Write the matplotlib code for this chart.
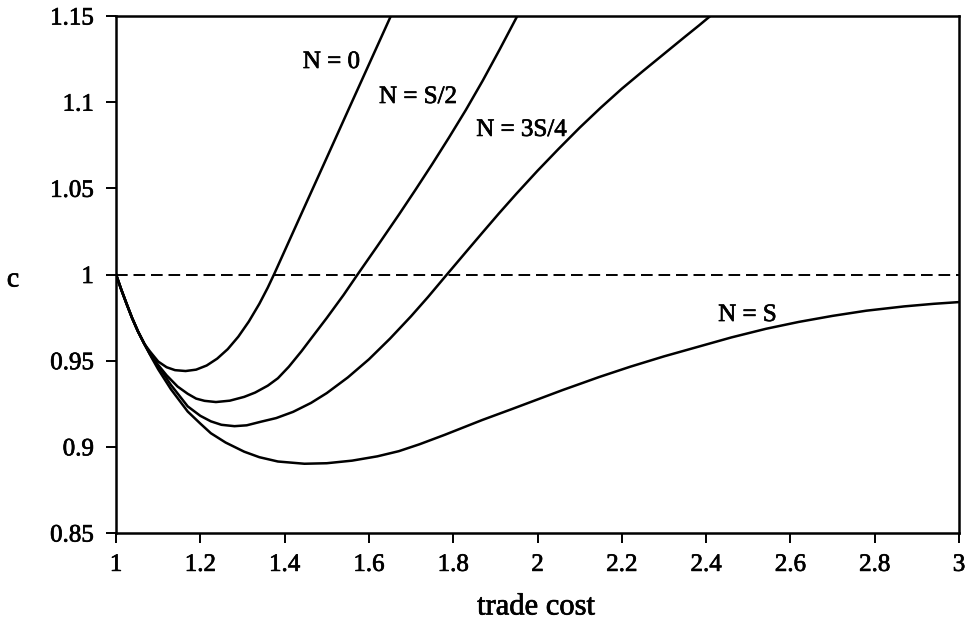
import matplotlib.pyplot as plt
import matplotlib.patheffects as pe

plt.rcParams['font.family'] = ['Liberation Serif', 'DejaVu Serif']

# c against trade cost for each value of N (all curves start at (1, 1))
x_n0 = [1.0, 1.012, 1.025, 1.038, 1.052, 1.067, 1.08, 1.10, 1.12, 1.14, 1.165, 1.19,
        1.215, 1.24, 1.265, 1.29, 1.315, 1.34, 1.36, 1.376, 1.40, 1.45, 1.50, 1.55,
        1.60, 1.652]
y_n0 = [1.0, 0.9915, 0.983, 0.9748, 0.967, 0.9598, 0.9555, 0.9495, 0.9462, 0.9445, 0.944, 0.9448,
        0.9472, 0.9512, 0.9567, 0.9639, 0.9727, 0.983, 0.9924, 1.0007, 1.0137, 1.0408, 1.0678, 1.0949,
        1.1219, 1.15]

x_half = [1.0, 1.012, 1.025, 1.038, 1.052, 1.067, 1.08, 1.10, 1.12, 1.146, 1.17, 1.19,
          1.21, 1.237, 1.27, 1.304, 1.33, 1.36, 1.384, 1.41, 1.44, 1.4626, 1.50, 1.54,
          1.573, 1.62, 1.671, 1.71, 1.75, 1.79, 1.83, 1.87, 1.91, 1.952]
y_half = [1.0, 0.9915, 0.983, 0.9748, 0.967, 0.9598, 0.954, 0.9475, 0.9415, 0.935, 0.9308, 0.928,
          0.9267, 0.926, 0.9268, 0.929, 0.9315, 0.9355, 0.9398, 0.9465, 0.9555, 0.9628, 0.9748, 0.9882,
          1.0, 1.0165, 1.0347, 1.049, 1.064, 1.0795, 1.0955, 1.1125, 1.1305, 1.15]

x_3q = [1.0, 1.012, 1.025, 1.038, 1.052, 1.067, 1.085, 1.10, 1.13, 1.17, 1.20, 1.225,
        1.25, 1.281, 1.31, 1.344, 1.38, 1.42, 1.4626, 1.50, 1.55, 1.60, 1.65, 1.70,
        1.74, 1.785, 1.83, 1.87, 1.909, 1.95, 2.0, 2.05, 2.10, 2.15, 2.20, 2.25,
        2.30, 2.35, 2.383, 2.41]
y_3q = [1.0, 0.9915, 0.983, 0.9748, 0.967, 0.9598, 0.952, 0.947, 0.936, 0.9235, 0.918, 0.9148,
        0.9128, 0.912, 0.9125, 0.9146, 0.9167, 0.9203, 0.9255, 0.9312, 0.9403, 0.9508, 0.9628, 0.9758,
        0.9869, 1.0, 1.013, 1.0245, 1.0356, 1.0469, 1.0602, 1.0729, 1.0852, 1.0968, 1.1078, 1.118,
        1.128, 1.138, 1.1445, 1.15]

x_full = [1.0, 1.012, 1.025, 1.038, 1.052, 1.067, 1.085, 1.10, 1.13, 1.17, 1.20, 1.225,
          1.26, 1.304, 1.34, 1.384, 1.447, 1.50, 1.56, 1.62, 1.671, 1.72, 1.78, 1.869,
          1.94, 2.0, 2.06, 2.106, 2.146, 2.22, 2.30, 2.38, 2.46, 2.542, 2.62, 2.70,
          2.78, 2.87, 2.94, 3.0]
y_full = [1.0, 0.9915, 0.983, 0.9748, 0.967, 0.9598, 0.9515, 0.945, 0.9335, 0.9205, 0.9135, 0.9079,
          0.9025, 0.8972, 0.894, 0.8915, 0.8902, 0.8905, 0.892, 0.8945, 0.8975, 0.9015, 0.907, 0.9156,
          0.922, 0.9275, 0.933, 0.937, 0.9405, 0.9465, 0.9525, 0.958, 0.9635, 0.9685, 0.9725, 0.976,
          0.979, 0.9815, 0.983, 0.984]

curve_labels = ['N = 0', 'N = S/2', 'N = 3S/4', 'N = S']
label_x = [1.511, 1.7165, 1.962, 2.498]
label_y = [1.1233, 1.103, 1.0839, 0.9765]

x_ticks = [1, 1.2, 1.4, 1.6, 1.8, 2, 2.2, 2.4, 2.6, 2.8, 3]
y_ticks = [0.85, 0.9, 0.95, 1, 1.05, 1.1, 1.15]

# slightly heavier glyphs
heavy = [pe.withStroke(linewidth=0.5, foreground='black')]

fig = plt.figure(figsize=(9.76, 6.32), dpi=100)
ax = fig.add_axes([0.1189, 0.1566, 0.8637, 0.8181])

ax.plot([1, 3], [1, 1], color='black', lw=1.4, linestyle=(0, (6, 3)))
for xs, ys in [(x_n0, y_n0), (x_half, y_half), (x_3q, y_3q), (x_full, y_full)]:
    ax.plot(xs, ys, color='black', lw=1.8, solid_joinstyle='round')

for text, lx, ly in zip(curve_labels, label_x, label_y):
    ax.text(lx, ly, text, fontsize=18, ha='center', va='center', path_effects=heavy)

ax.set_xlim(1, 3)
ax.set_ylim(0.85, 1.15)
ax.set_xticks(x_ticks)
ax.set_xticklabels([('%g' % t) for t in x_ticks])
ax.set_yticks(y_ticks)
ax.set_yticklabels([('%g' % t) for t in y_ticks])
ax.tick_params(direction='out', length=7, width=1.4, labelsize=18)
ax.tick_params(axis='x', pad=8)
ax.tick_params(axis='y', pad=9)
for lab in ax.get_xticklabels() + ax.get_yticklabels():
    lab.set_path_effects(heavy)
for side in ax.spines:
    ax.spines[side].set_linewidth(1.8)

fig.text(0.0133, 0.557, 'c', fontsize=20, ha='center', va='center', path_effects=heavy)
fig.text(0.549, 0.0396, 'trade cost', fontsize=22, ha='center', va='center', path_effects=heavy)

plt.savefig('out.png')
